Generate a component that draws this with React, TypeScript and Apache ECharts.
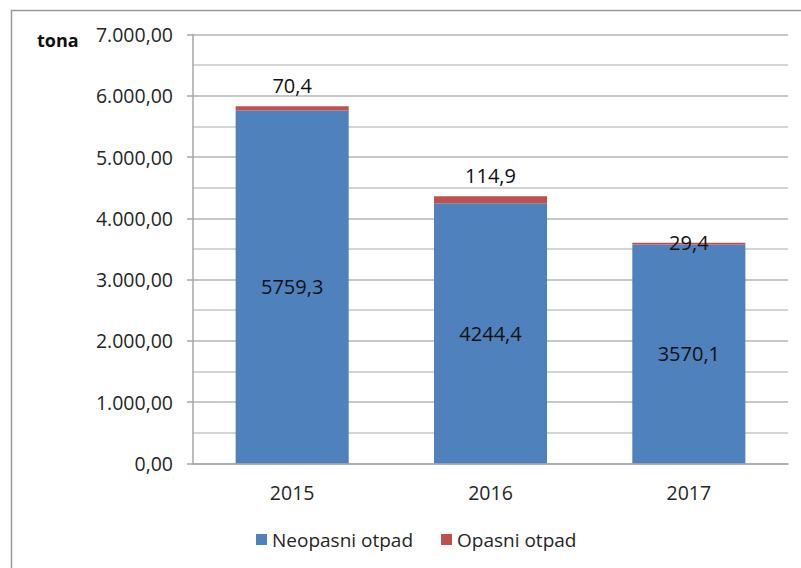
import React, { useEffect, useRef } from "react";
import * as echarts from "echarts";

const categories = ["2015", "2016", "2017"];
const neopasni = [5759.3, 4244.4, 3570.1];
const opasni = [70.4, 114.9, 29.4];
const seriesNames = ["Neopasni otpad", "Opasni otpad"];
const yUnit = "tona";

const FONT = "'Open Sans', sans-serif";

const fmtComma = (v: number) => String(v).replace(".", ",");
const fmtAxis = (v: number) => {
  const s = Math.round(v).toString().replace(/\B(?=(\d{3})+(?!\d))/g, ".");
  return s + ",00";
};

export default function App() {
  const ref = useRef<HTMLDivElement>(null);
  useEffect(() => {
    if (!ref.current) return;
    const chart = echarts.init(ref.current, undefined, { renderer: "svg" });
    const topOffsets = [[0, 0], [0, 0], [0, 21]];
    chart.setOption({
      animation: false,
      backgroundColor: "#ffffff",
      textStyle: { fontFamily: FONT },
      grid: { left: 193, right: 13, top: 34.5, bottom: 104.7, containLabel: false },
      legend: {
        left: 251,
        top: 525,
        itemWidth: 11,
        itemHeight: 11,
        itemGap: 28,
        icon: "rect",
        data: seriesNames,
        textStyle: { fontFamily: FONT, fontSize: 19, color: "#262626" },
      },
      graphic: [
        {
          type: "rect",
          shape: { x: 11.5, y: 10.5, width: 900, height: 700 },
          style: { fill: "none", stroke: "#9a9a9a", lineWidth: 1.5 },
          silent: true,
        },
        {
          type: "text",
          left: 37,
          top: 31,
          style: {
            text: yUnit,
            font: `bold 18px ${FONT}`,
            fill: "#111",
          },
        },
      ],
      xAxis: {
        type: "category",
        data: categories,
        axisLine: { show: true, lineStyle: { color: "#a6a6a6", width: 1.5 } },
        axisTick: { show: false },
        axisLabel: { margin: 19, fontSize: 19.5, color: "#262626", fontFamily: FONT },
      },
      yAxis: {
        type: "value",
        min: 0,
        max: 7000,
        interval: 1000,
        axisLine: { show: true, lineStyle: { color: "#a6a6a6", width: 1.5 } },
        axisTick: { show: true, length: 6, lineStyle: { color: "#a6a6a6", width: 1.5 } },
        minorTick: { show: false, splitNumber: 2 },
        minorSplitLine: { show: true, lineStyle: { color: "#c6c6c6", width: 1.5 } },
        splitLine: { show: true, lineStyle: { color: "#b4b4b4", width: 1.5 } },
        axisLabel: {
          margin: 20,
          fontSize: 19.5,
          color: "#262626",
          fontFamily: FONT,
          formatter: (v: number) => fmtAxis(v),
        },
      },
      series: [
        {
          name: seriesNames[0],
          type: "bar",
          stack: "total",
          barWidth: "57%",
          itemStyle: { color: "#4F81BD" },
          label: {
            show: true,
            position: "inside",
            fontSize: 20,
            color: "#111",
            fontFamily: FONT,
            formatter: (p: any) => fmtComma(p.value),
          },
          data: neopasni,
        },
        {
          name: seriesNames[1],
          type: "bar",
          stack: "total",
          barWidth: "57%",
          itemStyle: { color: "#C0504D" },
          data: opasni.map((v, i) => ({
            value: v,
            label: {
              show: true,
              position: "top",
              distance: 11,
              offset: topOffsets[i],
              fontSize: 20,
              color: "#111",
              fontFamily: FONT,
              formatter: (p: any) => fmtComma(p.value),
            },
          })),
        },
      ],
    });
    return () => chart.dispose();
  }, []);
  return (
    <div
      ref={ref}
      style={{ position: "absolute", left: 0, top: 0, width: 801, height: 568 }}
    />
  );
}
